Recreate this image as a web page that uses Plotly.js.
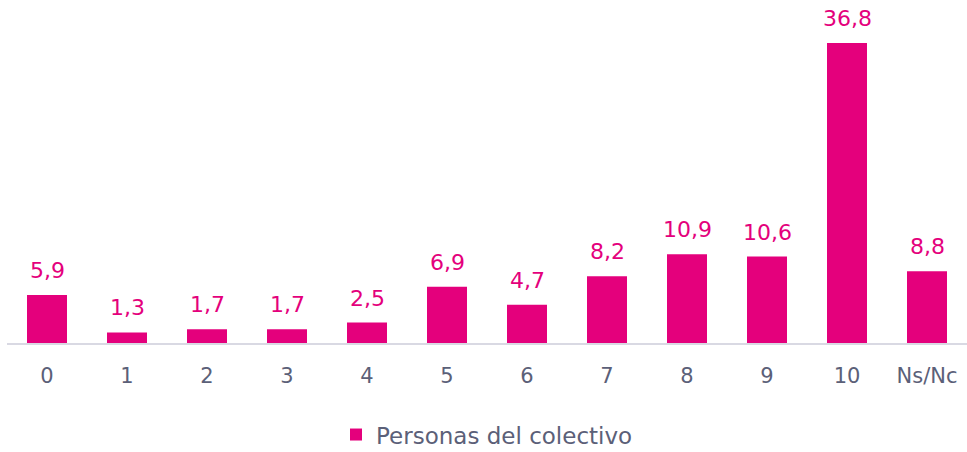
<!DOCTYPE html>
<html>
<head>
<meta charset="utf-8">
<script src="https://cdn.plot.ly/plotly-3.0.1.min.js"></script>
<style>html,body{margin:0;padding:0;background:#fff;}#chart{width:967px;height:452px;}</style>
</head>
<body>
<div id="chart"></div>
<script>
const categories = ["0","1","2","3","4","5","6","7","8","9","10","Ns/Nc"];
const values = [5.9, 1.3, 1.7, 1.7, 2.5, 6.9, 4.7, 8.2, 10.9, 10.6, 36.8, 8.8];
const valueLabels = ["5,9","1,3","1,7","1,7","2,5","6,9","4,7","8,2","10,9","10,6","36,8","8,8"];
const seriesName = "Personas del colectivo";

const fontFamily = "'DejaVu Sans', sans-serif";
const barColor = "#E4007C";
const textGray = "#5B6078";

const trace = {
  type: "bar",
  x: categories,
  y: values,
  name: seriesName,
  marker: {color: barColor},
  width: 0.5,
  hoverinfo: "skip"
};

const annotations = categories.map((c, i) => ({
  x: c,
  y: values[i],
  xref: "x",
  yref: "y",
  text: valueLabels[i],
  showarrow: false,
  yanchor: "bottom",
  yshift: 10,
  font: {family: fontFamily, size: 22, color: barColor}
}));

const layout = {
  width: 967,
  height: 452,
  margin: {l: 7, r: 0, t: 10, b: 109, autoexpand: false},
  paper_bgcolor: "#fff",
  plot_bgcolor: "#fff",
  font: {family: fontFamily, color: textGray},
  showlegend: true,
  legend: {
    orientation: "h",
    x: 0.5, xanchor: "center",
    y: -0.275, yanchor: "middle",
    font: {family: fontFamily, size: 23, color: textGray},
    itemwidth: 30
  },
  annotations: annotations,
  xaxis: {
    type: "category",
    showline: true,
    linecolor: "#D9D9E3",
    linewidth: 2,
    ticks: "outside",
    ticklen: 13,
    tickcolor: "rgba(0,0,0,0)",
    tickfont: {family: fontFamily, size: 21, color: textGray},
    showgrid: false,
    zeroline: false,
    automargin: false
  },
  yaxis: {
    range: [0, 40.85],
    visible: false,
    showgrid: false,
    zeroline: false
  },
  bargap: 0.5
};

Plotly.newPlot("chart", [trace], layout, {displayModeBar: false, staticPlot: true});
</script>
</body>
</html>
